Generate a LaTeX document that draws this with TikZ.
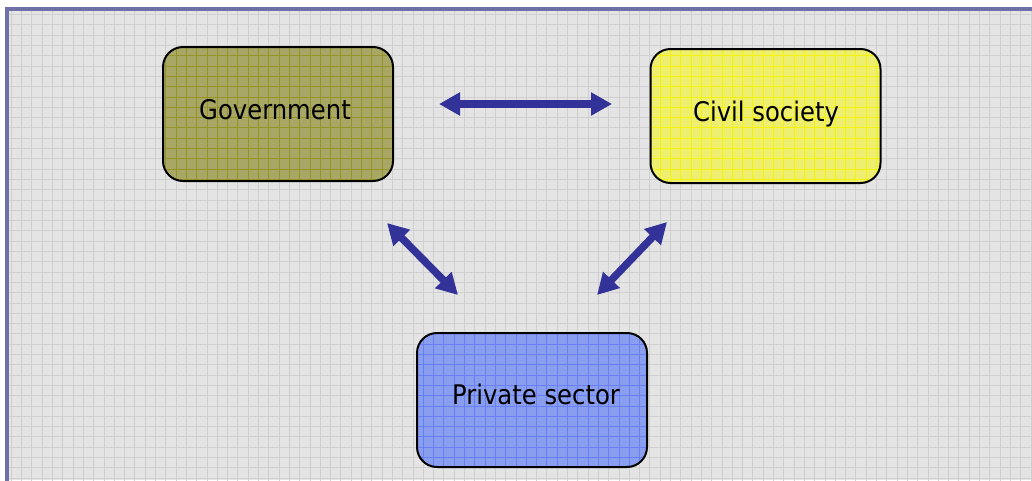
\documentclass[tikz,border=0pt]{standalone}
\usepackage{fontspec}
\setmainfont{DejaVu Sans}[FakeStretch=0.9]
\usetikzlibrary{arrows.meta}
\definecolor{bggray}{RGB}{228,228,228}
\definecolor{bgline}{RGB}{208,208,208}
\definecolor{framecol}{RGB}{112,112,168}
\definecolor{govfill}{RGB}{168,167,102}
\definecolor{govline}{RGB}{150,148,40}
\definecolor{civfill}{RGB}{238,238,112}
\definecolor{civline}{RGB}{242,242,10}
\definecolor{privfill}{RGB}{138,158,240}
\definecolor{privline}{RGB}{104,128,244}
\definecolor{arrowcol}{RGB}{50,50,152}
\newcommand\mygridlines[1]{%
  \foreach \i in {0,...,101} {\draw[#1, line width=1pt] ({1+10.3*\i},-5) -- ({1+10.3*\i},490);}
  \foreach \j in {0,...,47} {\draw[#1, line width=1pt] (-5,{4.3+10.3*\j}) -- (1040,{4.3+10.3*\j});}
}
\tikzset{
  box/.style={line width=2pt, rounded corners=20pt, minimum width=230pt, minimum height=134pt, inner sep=0pt, outer sep=0pt},
  rim/.style={draw=black, line width=2pt, rounded corners=20pt},
  lbl/.style={font=\fontsize{27}{30}\selectfont, text=black, anchor=base, inner sep=0pt},
  link/.style={draw=arrowcol, line width=7.5pt, {Triangle[width=22pt,length=21pt]}-{Triangle[width=22pt,length=21pt]}}
}
\begin{document}
\begin{tikzpicture}[x=1pt,y=-1pt]
\useasboundingbox (0,0) rectangle (1032,480);
\fill[white] (0,0) rectangle (1032,480);
\fill[bggray] (7,9) rectangle (1032,480);
\begin{scope}
\clip (7,9) rectangle (1032,480);
\mygridlines{bgline}
\end{scope}
\draw[framecol, line width=3.5pt] (1040,9) -- (7,9) -- (7,490);
% boxes
\node[box, fill=govfill] (gov) at (278,114) {};
\node[box, fill=civfill] (civ) at (765.5,116) {};
\node[box, fill=privfill] (priv) at (532,400) {};
\begin{scope}
\clip[rounded corners=20pt] (gov.south west) rectangle (gov.north east);
\mygridlines{govline}
\end{scope}
\begin{scope}
\clip[rounded corners=20pt] (civ.south west) rectangle (civ.north east);
\mygridlines{civline}
\end{scope}
\begin{scope}
\clip[rounded corners=20pt] (priv.south west) rectangle (priv.north east);
\mygridlines{privline}
\end{scope}
\draw[rim] (gov.south west) rectangle (gov.north east);
\draw[rim] (civ.south west) rectangle (civ.north east);
\draw[rim] (priv.south west) rectangle (priv.north east);
% labels
\node[lbl] (govt) at (275,119) {Government};
\node[lbl] (civt) at (766,121) {Civil society};
\node[lbl] (privt) at (536,404) {Private sector};
% arrow end points
\coordinate (h1) at (439,104);
\coordinate (h2) at (612,104);
\coordinate (l1) at (387,223);
\coordinate (l2) at (458,295);
\coordinate (r1) at (667,222);
\coordinate (r2) at (597,295);
\draw[link] (h1) -- (h2);
\draw[link] (l1) -- (l2);
\draw[link] (r1) -- (r2);
\end{tikzpicture}
\end{document}
